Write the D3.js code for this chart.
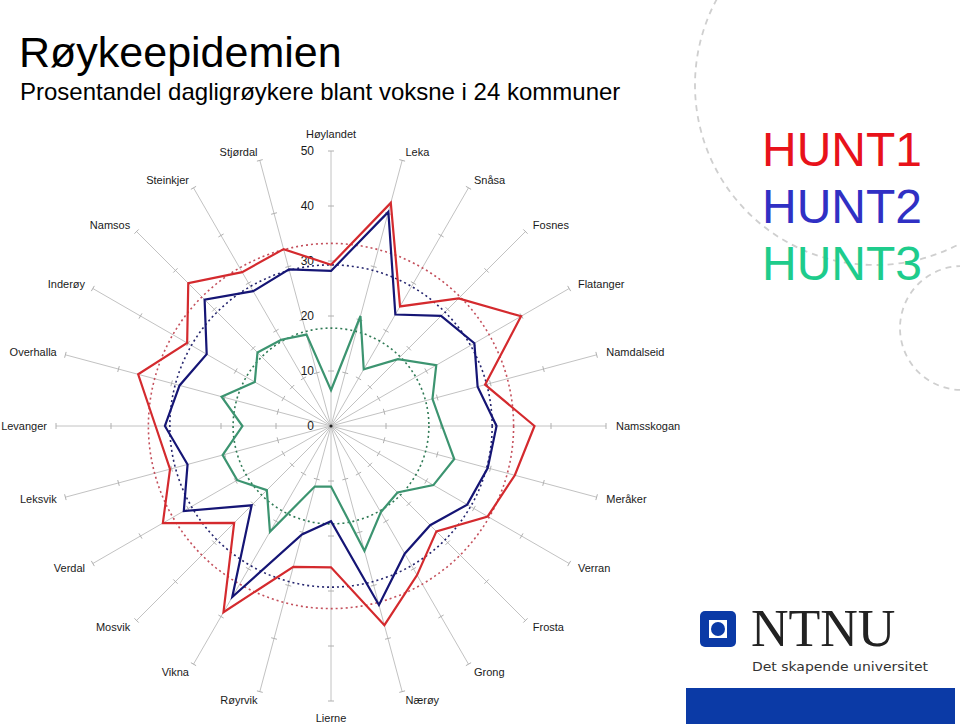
<!DOCTYPE html>
<html>
<head>
<meta charset="utf-8">
<script src="https://cdn.jsdelivr.net/npm/d3@7"></script>
<style>
  body { margin: 0; background: #fff; }
  svg { display: block; font-family: "Liberation Sans", Arial, sans-serif; }
</style>
</head>
<body>
<svg id="radarChart"></svg>
<script>
// kommuner clockwise from the top
const kommuner = ["Høylandet", "Leka", "Snåsa", "Fosnes", "Flatanger", "Namdalseid",
  "Namsskogan", "Meråker", "Verran", "Frosta", "Grong", "Nærøy", "Lierne", "Røyrvik",
  "Vikna", "Mosvik", "Verdal", "Leksvik", "Levanger", "Overhalla", "Inderøy",
  "Namsos", "Steinkjer", "Stjørdal"];

const hunt1 = [29.3, 42.0, 25.1, 32.8, 39.9, 29.0, 37.0, 34.6, 32.9, 27.1, 31.3, 37.5,
  25.7, 26.5, 39.1, 24.9, 35.3, 30.3, 31.9, 36.3, 30.2, 36.7, 32.3, 33.3];
const hunt2 = [28.2, 40.3, 23.4, 28.3, 30.1, 27.6, 30.1, 29.5, 28.6, 25.5, 26.8, 33.7,
  17.3, 20.4, 35.9, 20.4, 30.9, 27.0, 30.2, 28.5, 26.1, 32.5, 28.3, 29.5];
const hunt3 = [6.5, 20.7, 11.9, 17.2, 22.1, 19.1, 20.2, 23.2, 21.5, 17.1, 18.1, 23.5,
  11.0, 11.4, 22.2, 16.5, 19.7, 20.4, 16.1, 20.6, 16.0, 18.9, 18.1, 17.2];

// dotted reference rings (overall level per survey)
const snitt = [33.2, 29.3, 17.8];
const seriesNames = ["HUNT1", "HUNT2", "HUNT3"];
const tickValues = [0, 10, 20, 30, 40, 50];

const lineColors = ["#d42a2e", "#151575", "#3c9470"];
const ringColors = ["#c4505c", "#25256e", "#2f7a55"];
const legendColors = ["#e8121a", "#3030c4", "#1ecc8c"];

function getChartConfig() {
  const dimensions = {
    width: 960,
    height: 726,
    center: { x: 331, y: 426 },
    radius: 275
  };

  const svg = d3.select("#radarChart")
    .attr("width", dimensions.width)
    .attr("height", dimensions.height);

  const container = svg.append("g")
    .attr("transform", `translate(${dimensions.center.x},${dimensions.center.y})`);

  return { dimensions, svg, container };
}

function getScales(config) {
  const rScale = d3.scaleLinear()
    .domain([0, 50])
    .range([0, config.dimensions.radius]);

  const angleScale = d3.scaleLinear()
    .domain([0, kommuner.length])
    .range([0, 2 * Math.PI]);

  return { rScale, angleScale };
}

function drawDecoration(config) {
  const { svg } = config;

  svg.append("circle")
    .attr("cx", 875).attr("cy", 85).attr("r", 180)
    .attr("fill", "none")
    .attr("stroke", "#cfcfcf")
    .attr("stroke-width", 1.8)
    .attr("stroke-dasharray", "6,5");

  svg.append("circle")
    .attr("cx", 962).attr("cy", 328).attr("r", 62)
    .attr("fill", "none")
    .attr("stroke", "#cfcfcf")
    .attr("stroke-width", 1.8)
    .attr("stroke-dasharray", "6,5");
}

function drawTitles(config) {
  const { svg } = config;

  svg.append("text")
    .attr("x", 19)
    .attr("y", 67)
    .attr("font-size", 43)
    .attr("fill", "#000")
    .text("Røykeepidemien");

  svg.append("text")
    .attr("x", 20)
    .attr("y", 100)
    .attr("font-size", 24)
    .attr("fill", "#000")
    .text("Prosentandel dagligrøykere blant voksne i 24 kommuner");
}

function drawAxes(config, scales) {
  const { container } = config;
  const { rScale, angleScale } = scales;

  const spokes = container.append("g").attr("class", "spokes");

  kommuner.forEach((k, i) => {
    const a = angleScale(i);
    const sx = Math.sin(a), sy = -Math.cos(a);
    const end = rScale(50);

    spokes.append("line")
      .attr("x1", 0).attr("y1", 0)
      .attr("x2", end * sx).attr("y2", end * sy)
      .attr("stroke", "#c2c2c2")
      .attr("stroke-width", 1);

    // small tick marks across each spoke
    tickValues.slice(1).forEach(t => {
      const r = rScale(t);
      const px = -sy * 3, py = sx * 3;
      spokes.append("line")
        .attr("x1", r * sx - px).attr("y1", r * sy - py)
        .attr("x2", r * sx + px).attr("y2", r * sy + py)
        .attr("stroke", "#b0b0b0")
        .attr("stroke-width", 1);
    });

    // kommune label
    const lr = 284;
    let lx = lr * sx, ly = lr * sy;
    let anchor = "middle";
    if (sx > 0.05) { anchor = "start"; lx += 1; }
    else if (sx < -0.05) anchor = "end";
    else ly += sy * 8;

    spokes.append("text")
      .attr("x", lx)
      .attr("y", ly)
      .attr("dy", "0.35em")
      .attr("text-anchor", anchor)
      .attr("font-size", 11)
      .attr("fill", "#1a1a1a")
      .text(k);
  });

  // value labels along the top spoke
  container.append("g")
    .selectAll("text")
    .data(tickValues)
    .join("text")
    .attr("x", -17)
    .attr("y", d => -rScale(d))
    .attr("dy", "0.35em")
    .attr("text-anchor", "end")
    .attr("font-size", 12)
    .attr("fill", "#1a1a1a")
    .text(d => d);

  container.append("circle")
    .attr("r", 1.6)
    .attr("fill", "#222");
}

function drawRings(config, scales) {
  const { container } = config;
  const { rScale } = scales;

  container.append("g")
    .selectAll("circle")
    .data(snitt)
    .join("circle")
    .attr("r", d => rScale(d))
    .attr("fill", "none")
    .attr("stroke", (d, i) => ringColors[i])
    .attr("stroke-width", 1.6)
    .attr("stroke-dasharray", "2,3");
}

function drawLines(config, scales) {
  const { container } = config;
  const { rScale, angleScale } = scales;

  const radar = d3.lineRadial()
    .angle((d, i) => angleScale(i))
    .radius(d => rScale(d))
    .curve(d3.curveLinearClosed);

  container.append("g")
    .selectAll("path")
    .data([hunt1, hunt2, hunt3])
    .join("path")
    .attr("d", radar)
    .attr("fill", "none")
    .attr("stroke", (d, i) => lineColors[i])
    .attr("stroke-width", 2.2)
    .attr("stroke-linejoin", "miter");
}

function drawLegend(config) {
  const { svg } = config;

  svg.append("g")
    .selectAll("text")
    .data(seriesNames)
    .join("text")
    .attr("x", 762)
    .attr("y", (d, i) => 166 + i * 57)
    .attr("font-size", 48)
    .attr("fill", (d, i) => legendColors[i])
    .text(d => d);
}

function drawLogo(config) {
  const { svg } = config;
  const logo = svg.append("g");

  logo.append("rect")
    .attr("x", 700).attr("y", 611)
    .attr("width", 36).attr("height", 36)
    .attr("rx", 5)
    .attr("fill", "#0b3aa6");
  logo.append("rect")
    .attr("x", 709).attr("y", 620)
    .attr("width", 18).attr("height", 18)
    .attr("fill", "#fff");
  logo.append("circle")
    .attr("cx", 718).attr("cy", 629)
    .attr("r", 7)
    .attr("fill", "#0b3aa6");

  logo.append("text")
    .attr("x", 751)
    .attr("y", 646)
    .attr("font-family", "'Liberation Serif', 'Times New Roman', serif")
    .attr("font-size", 52)
    .attr("fill", "#222")
    .text("NTNU");

  logo.append("text")
    .attr("x", 752)
    .attr("y", 671)
    .attr("font-family", "'DejaVu Sans Condensed', 'DejaVu Sans', sans-serif")
    .attr("font-size", 13)
    .attr("textLength", 176)
    .attr("lengthAdjust", "spacingAndGlyphs")
    .attr("fill", "#333")
    .text("Det skapende universitet");

  svg.append("rect")
    .attr("x", 686).attr("y", 688)
    .attr("width", 269).attr("height", 36)
    .attr("fill", "#0b3aa6");
}

function renderRadarChart() {
  const config = getChartConfig();
  const scales = getScales(config);
  drawDecoration(config);
  drawTitles(config);
  drawAxes(config, scales);
  drawRings(config, scales);
  drawLines(config, scales);
  drawLegend(config);
  drawLogo(config);
}

renderRadarChart();
</script>
</body>
</html>
